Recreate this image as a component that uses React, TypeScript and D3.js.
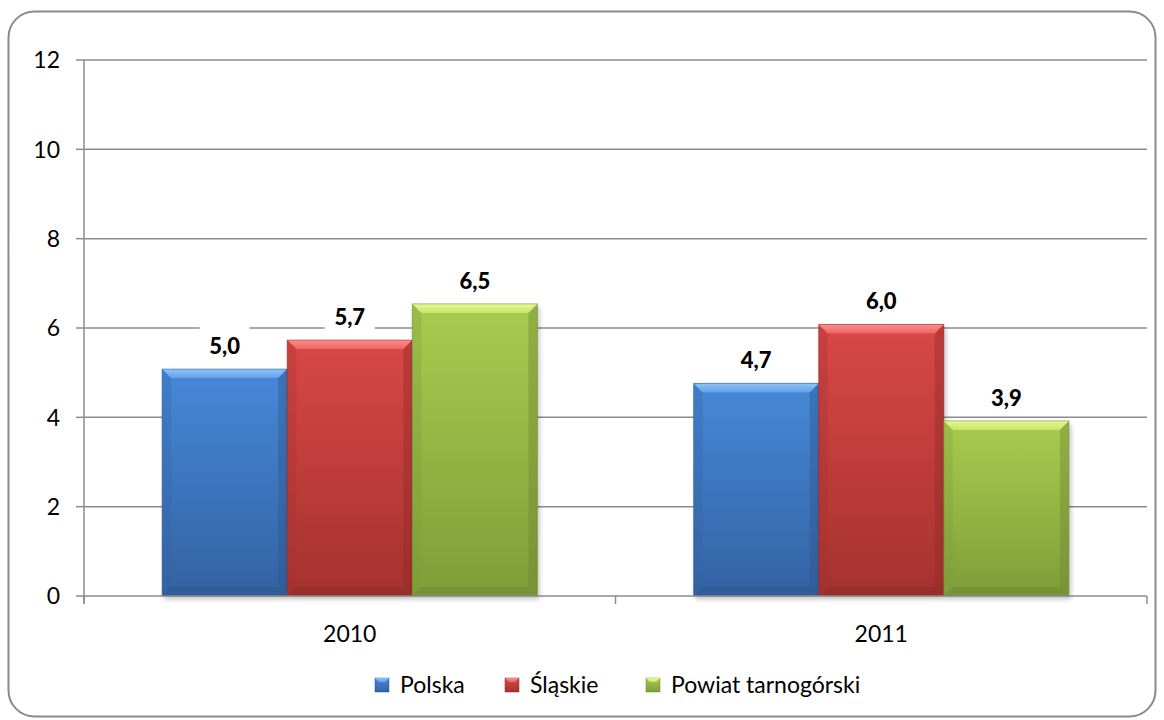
import React from "react";
import * as d3 from "d3";

const categories = ["2010", "2011"];
const seriesNames = ["Polska", "Śląskie", "Powiat tarnogórski"];
const polska = [5.08, 4.76];
const slaskie = [5.73, 6.08];
const powiat = [6.54, 3.92];
const yTicks = [0, 2, 4, 6, 8, 10, 12];

const seriesValues = [polska, slaskie, powiat];
const palette = [
  { hi: "#8cc4fa", top: "#62a2ea", main: "#4689d8", dark: "#3462a3", edge: "#2c558f" },
  { hi: "#fb8f8c", top: "#ec6462", main: "#d84846", dark: "#a5322f", edge: "#8e2a28" },
  { hi: "#e8f890", top: "#c6e46a", main: "#a7cc4f", dark: "#7f9d39", edge: "#6c8830" },
];

const W = 1164;
const H = 720;
const FONT = "Lato, 'Open Sans', sans-serif";

function fmt(v: number) {
  return (Math.floor(v * 10 + 1e-9) / 10).toFixed(1).replace(".", ",");
}

export default function App() {
  const x0 = d3.scaleBand<string>().domain(categories).range([84, 1147]);
  const bw = x0.bandwidth();
  const x1 = d3
    .scaleBand<string>()
    .domain(seriesNames)
    .range([bw * 0.147, bw * 0.853]);
  const y = d3.scaleLinear().domain([0, 12]).range([596, 60]);
  const b = 9;

  const bars: any[] = [];
  const labels: any[] = [];
  categories.forEach((c, ci) => {
    seriesNames.forEach((s, si) => {
      const v = seriesValues[si][ci];
      const x = (x0(c) as number) + (x1(s) as number);
      const w = x1.bandwidth();
      const yt = y(v);
      const h = y(0) - yt;
      const p = palette[si];
      bars.push(
        <g key={`b${ci}${si}`}>
          <rect x={x + 2} y={yt + 3} width={w} height={h} fill="#000" opacity={0.25} filter="url(#sh)" />
          <rect x={x} y={yt} width={w} height={h} fill={`url(#g${si})`} />
          <polygon
            points={`${x},${yt} ${x + w},${yt} ${x + w - b},${yt + b} ${x + b},${yt + b}`}
            fill={`url(#t${si})`}
          />
          <polygon
            points={`${x},${yt} ${x + b},${yt + b} ${x + b},${yt + h - b} ${x},${yt + h}`}
            fill={p.dark}
            opacity={0.3}
          />
          <polygon
            points={`${x + w},${yt} ${x + w - b},${yt + b} ${x + w - b},${yt + h - b} ${x + w},${yt + h}`}
            fill={p.edge}
            opacity={0.4}
          />
          <polygon
            points={`${x},${yt + h} ${x + b},${yt + h - b} ${x + w - b},${yt + h - b} ${x + w},${yt + h}`}
            fill={p.edge}
            opacity={0.5}
          />
          <rect x={x} y={yt} width={w} height={h} fill="none" stroke={p.edge} strokeOpacity={0.5} strokeWidth={1} />
        </g>
      );
      const cx = x + w / 2;
      const base = yt - 15;
      labels.push(
        <g key={`l${ci}${si}`}>
          <rect x={cx - 25} y={base - 29} width={50} height={36} fill="#fff" />
          <text x={cx} y={base} textAnchor="middle" fontFamily={FONT} fontWeight={900} fontSize={22} fill="#000">
            {fmt(v)}
          </text>
        </g>
      );
    });
  });

  const legendTextX = [400, 530, 671];

  return (
    <div style={{ position: "fixed", left: 0, top: 0, width: W, height: H }}>
      <svg width={W} height={H} style={{ display: "block" }}>
        <defs>
          {palette.map((p, i) => (
            <linearGradient key={`g${i}`} id={`g${i}`} x1="0" y1="0" x2="0" y2="1">
              <stop offset="0" stopColor={p.main} />
              <stop offset="1" stopColor={p.dark} />
            </linearGradient>
          ))}
          {palette.map((p, i) => (
            <linearGradient key={`t${i}`} id={`t${i}`} x1="0" y1="0" x2="0" y2="1">
              <stop offset="0" stopColor={p.hi} />
              <stop offset="1" stopColor={p.top} />
            </linearGradient>
          ))}
          <filter id="sh" x="-10%" y="-10%" width="120%" height="120%">
            <feGaussianBlur stdDeviation="2.5" />
          </filter>
        </defs>
        <rect x={0} y={0} width={W} height={H} fill="#fff" />
        <rect x={8.5} y={11.5} width={1147} height={705} rx={26} ry={26} fill="#fff" stroke="#8a8a8a" strokeWidth={2} />

        {yTicks.map((t) => (
          <g key={t}>
            {t > 0 && <line x1={84} x2={1147} y1={y(t)} y2={y(t)} stroke="#8c8c8c" strokeWidth={1.5} />}
            <line x1={76} x2={84} y1={y(t)} y2={y(t)} stroke="#8c8c8c" strokeWidth={1.5} />
            <text x={60} y={y(t)} dy="0.36em" textAnchor="end" fontFamily={FONT} fontSize={23} fill="#000">
              {t}
            </text>
          </g>
        ))}
        <line x1={84} x2={84} y1={60} y2={603} stroke="#8c8c8c" strokeWidth={1.5} />

        {labels}
        {bars}

        <line x1={84} x2={1147} y1={y(0)} y2={y(0)} stroke="#8c8c8c" strokeWidth={1.5} />
        {[84, 84 + bw, 84 + 2 * bw].map((tx, i) => (
          <line key={i} x1={tx} x2={tx} y1={596} y2={604} stroke="#8c8c8c" strokeWidth={1.5} />
        ))}
        {categories.map((c) => (
          <text
            key={c}
            x={(x0(c) as number) + bw / 2}
            y={642}
            textAnchor="middle"
            fontFamily={FONT}
            fontSize={23}
            fill="#000"
          >
            {c}
          </text>
        ))}

        {seriesNames.map((s, i) => {
          const p = palette[i];
          const tx = legendTextX[i];
          const lx = tx - 25;
          const ly = 678;
          return (
            <g key={s}>
              <rect x={lx} y={ly} width={14} height={14} fill={`url(#g${i})`} stroke={p.edge} strokeOpacity={0.5} />
              <polygon points={`${lx},${ly} ${lx + 14},${ly} ${lx + 10},${ly + 4} ${lx + 4},${ly + 4}`} fill={`url(#t${i})`} />
              <text x={tx} y={693} fontFamily={FONT} fontSize={23} fill="#000">
                {s}
              </text>
            </g>
          );
        })}
      </svg>
    </div>
  );
}
